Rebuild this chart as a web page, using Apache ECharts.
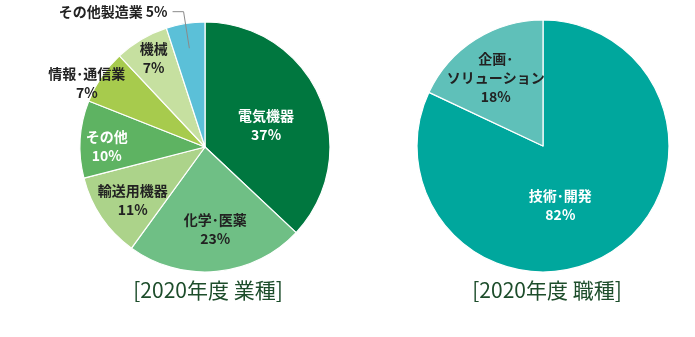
<!DOCTYPE html>
<html>
<head>
<meta charset="utf-8">
<script src="https://cdn.jsdelivr.net/npm/echarts@6/dist/echarts.min.js"></script>
<style>
  html, body { margin: 0; padding: 0; background: #fff; }
  #chart { width: 695px; height: 337px; }
</style>
</head>
<body>
<div id="chart"></div>
<script>
// 2020年度 業種 (industry breakdown, %)
const industryNames = ['電気機器', '化学･医薬', '輸送用機器', 'その他', '情報･通信業', '機械', 'その他製造業'];
const industryValues = [37, 23, 11, 10, 7, 7, 5];
const industryColors = ['#00773f', '#6fbf85', '#acd38a', '#5eb362', '#a7cb4d', '#c6e0a0', '#5bc0d8'];
const industryTextColors = ['#fff', '#222', '#222', '#fff', '#222', '#222', '#222'];
// label nudges (dx, dy) from the default inside position
const industryLabelShift = [[1, 4], [4, 17], [-18, 16], [-33, 3], [-64, -27], [-18, -32], [0, 0]];

// 2020年度 職種 (job-type breakdown, %)
const jobNames = ['技術･開発', '企画･\nソリューション'];
const jobValues = [82, 18];
const jobColors = ['#00a79d', '#5fc0b9'];
const jobTextColors = ['#fff', '#222'];
const jobLabelShift = [[-18, 3], [-12, -13]];

const titles = ['[2020年度 業種]', '[2020年度 職種]'];

const FONT = '"Noto Sans CJK JP", "Noto Sans", sans-serif';
const leftCenter = [205, 147], leftR = 125;
const rightCenter = [543, 146], rightR = 126;
const calloutIndex = industryNames.length - 1;

const labelStyle = (color) => ({
  color: color,
  fontFamily: FONT,
  fontSize: 14,
  fontWeight: 'bold',
  lineHeight: 19
});

const industryData = industryNames.map((n, i) => ({
  name: n,
  value: industryValues[i],
  itemStyle: { color: industryColors[i] },
  label: i === calloutIndex ? { show: false } : Object.assign({ show: true, position: 'inside' }, labelStyle(industryTextColors[i]))
}));

const jobData = jobNames.map((n, i) => ({
  name: n,
  value: jobValues[i],
  itemStyle: { color: jobColors[i] },
  label: Object.assign({ show: true, position: 'inside' }, labelStyle(jobTextColors[i]))
}));

// overlay ring carrying only the leader-line callout for the smallest slice
const calloutData = industryNames.map((n, i) => ({
  name: n,
  value: industryValues[i],
  label: i === calloutIndex
    ? Object.assign({ show: true, position: 'outside', formatter: '{b} {c}%', distanceToLabelLine: 5 }, labelStyle('#222'))
    : { show: false },
  labelLine: i === calloutIndex
    ? { show: true, length: 37, length2: 11, smooth: false, lineStyle: { color: '#8a8a8a', width: 1 } }
    : { show: false }
}));

const titleStyle = { fontFamily: FONT, fontSize: 21, fontWeight: 'normal', color: '#1d4d2b' };

const chart = echarts.init(document.getElementById('chart'), null, { renderer: 'canvas' });
chart.setOption({
  backgroundColor: '#fff',
  animation: false,
  title: [
    { text: titles[0], left: 203, top: 275, textAlign: 'center', textStyle: titleStyle },
    { text: titles[1], left: 542, top: 275, textAlign: 'center', textStyle: titleStyle }
  ],
  series: [
    {
      type: 'pie',
      center: leftCenter,
      radius: [0, leftR],
      startAngle: 90,
      clockwise: true,
      avoidLabelOverlap: false,
      silent: true,
      z: 2,
      itemStyle: { borderColor: '#fff', borderWidth: 1.2 },
      label: { formatter: '{b}\n{c}%' },
      labelLine: { show: false },
      labelLayout: (p) => ({ dx: industryLabelShift[p.dataIndex][0], dy: industryLabelShift[p.dataIndex][1] }),
      data: industryData
    },
    {
      type: 'pie',
      center: leftCenter,
      radius: [0, leftR * 0.8],
      startAngle: 90,
      clockwise: true,
      avoidLabelOverlap: false,
      silent: true,
      z: 5,
      itemStyle: { color: 'rgba(0,0,0,0)', borderWidth: 0 },
      data: calloutData
    },
    {
      type: 'pie',
      center: rightCenter,
      radius: [0, rightR],
      startAngle: 90,
      clockwise: true,
      avoidLabelOverlap: false,
      silent: true,
      z: 2,
      itemStyle: { borderColor: '#fff', borderWidth: 1.2 },
      label: { formatter: '{b}\n{c}%' },
      labelLine: { show: false },
      labelLayout: (p) => ({ dx: jobLabelShift[p.dataIndex][0], dy: jobLabelShift[p.dataIndex][1] }),
      data: jobData
    }
  ]
});
</script>
</body>
</html>
